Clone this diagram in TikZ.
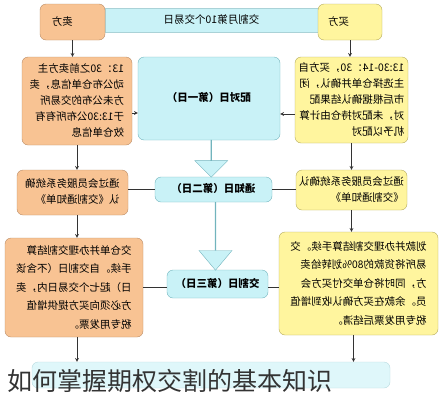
\documentclass[tikz,border=0pt]{standalone}
\usepackage{fontspec}
\setmainfont{Noto Sans CJK SC}
\usetikzlibrary{shapes.arrows, calc}
\definecolor{naranja}{HTML}{F8C393}
\definecolor{bordenaranja}{HTML}{B98C66}
\definecolor{amarillo}{HTML}{FFF59E}
\definecolor{bordeamarillo}{HTML}{B3AA5E}
\definecolor{celeste}{HTML}{C9F2F7}
\definecolor{bordeceleste}{HTML}{72B4BD}
\newcommand{\jingxiang}[1]{\reflectbox{\begin{tabular}{@{}l@{}}#1\end{tabular}}}
\tikzstyle{line} = [line width=0.7pt, black!80]
\tikzstyle{arrow} = [
	line width=0.7pt,
	->,
	>=stealth,
	black!80,
]
\tikzstyle{vendedor} = [
  rectangle,
  rounded corners=6pt,
  inner sep=0pt,
  text centered,
  draw=bordenaranja,
  fill=naranja,
  font=\fontsize{10.5}{16}\selectfont
]
\tikzstyle{comprador} = [
  rectangle,
  rounded corners=6pt,
  inner sep=0pt,
  text centered,
  draw=bordeamarillo,
  fill=amarillo,
  font=\fontsize{10.5}{16}\selectfont
]
\tikzstyle{dia} = [
  rectangle,
  rounded corners=6pt,
  inner sep=0pt,
  text centered,
  draw=bordeceleste,
  fill=celeste,
  font=\fontsize{10.5}{16}\selectfont\bfseries
]
\tikzstyle{flecha} = [
  single arrow,
  rotate=-90,
  inner sep=0pt,
  minimum width=33pt,
  single arrow head extend=9.5pt,
  draw=bordeceleste,
  fill=celeste
]

\begin{document}
\begin{tikzpicture}[x=1pt, y=-1pt]
    \useasboundingbox (0,0) rectangle (440,400);
    \node[dia, rounded corners=0pt, minimum width=213pt, minimum height=24pt, draw=bordeceleste!60, font=\fontsize{10.5}{16}\selectfont] (B) at (211.5,20) {\jingxiang{交割月第10个交易日}};
    \node[vendedor, minimum width=65pt, minimum height=36pt, text width=41pt, inner xsep=12pt, align=left] (A) at (72.5,22) {\jingxiang{卖方}};
    \node[comprador, minimum width=64pt, minimum height=36pt, text width=44pt, inner xsep=10pt, align=left] (C) at (350,22) {\jingxiang{买方}};

    \node[vendedor, minimum width=110pt, minimum height=88pt] (D) at (77,101) {\jingxiang{13：30之前卖方主\\ 动公布仓单信息，卖\\ 方未公布的交易所\\ 于13:30公布所有有\\ 效仓单信息}};
    \node[dia, minimum width=142pt, minimum height=83pt] (E) at (209,98.5) {\jingxiang{配对日（第一日）}};
    \node[comprador, minimum width=113pt, minimum height=86pt] (F) at (351.5,100) {\jingxiang{13:30-14：30，买方自\\ 主选择仓单并确认，闭\\ 市后根据确认结果配\\ 对，未配对持仓由计算\\ 机予以配对}};

    \node[vendedor, minimum width=111pt, minimum height=45pt] (G) at (72.5,192.5) {\jingxiang{通过会员服务系统确\\ 认《交割通知单》}};
    \node[dia, minimum width=117pt, minimum height=25pt] (H) at (213.5,189.5) {\jingxiang{通知日（第二日）}};
    \node[comprador, minimum width=111pt, minimum height=40pt] (I) at (351.5,190) {\jingxiang{通过会员服务系统确认\\ 《交割通知单》}};

    \node[vendedor, minimum width=138pt, minimum height=99pt, font=\fontsize{10.5}{18.5}\selectfont] (J) at (74,287.5) {\jingxiang{交仓单并办理交割结算\\ 手续。自交割日（不含该\\ 日）起七个交易日内，卖\\ 方必须向买方提供增值\\ 税专用发票。}};
    \node[dia, minimum width=101pt, minimum height=28pt] (K) at (217.5,284) {\jingxiang{交割日（第三日）}};
    \node[comprador, minimum width=159pt, minimum height=103pt, font=\fontsize{10.5}{18.5}\selectfont] (L) at (358.5,283.5) {\jingxiang{划款并办理交割结算手续。交\\ 易所将货款的80\%划转给卖\\ 方，同时将仓单交付买方会\\ 员。余款在买方确认收到增值\\ 税专用发票后结清。}};

    \node[dia, minimum width=358pt, minimum height=26pt, draw=bordeceleste!50, fill=celeste!60] (M) at (211,375) {};
    \node[font=\fontsize{25}{30}\selectfont, text=black!80] (N) at (170,381) {如何掌握期权交割的基本知识};

    \node[flecha, minimum height=37pt] (P) at ($(E.south)!0.5!(H.north)$) {};
    \node[flecha, minimum height=68pt, single arrow tip angle=80] (Q) at ($(H.south)!0.5!(K.north)$) {};

    \draw[arrow] (A.south) -- (A.south |- D.north);
    \draw[arrow] (C.south) -- (C.south |- F.north);
    \draw[arrow] ([yshift=-12pt]D.east) -- ([yshift=-12pt]D.east -| E.west);
    \draw[arrow] ([yshift=-14pt]F.west) -- ([yshift=-14pt]F.west -| E.east);
    \draw[arrow] (D.south) -- (D.south |- G.north);
    \draw[arrow] (F.south) -- (F.south |- I.north);
    \draw[arrow] (D.south |- G.south) -- (D.south |- J.north);
    \draw[arrow] (F.south |- I.south) -- (F.south |- L.north);
    \draw[arrow] (D.south |- J.south) -- (D.south |- M.north);
    \draw[arrow] ([xshift=2pt]F.south |- L.south) -- ([xshift=2pt]F.south |- M.north);
    \draw[line] (H.west) -- (H.west -| G.east);
    \draw[line] (H.east) -- (H.east -| I.west);
    \draw[line] ([yshift=-3pt]K.west) -- ([yshift=-3pt]K.west -| J.east);
    \draw[line] ([yshift=-3pt]K.east) -- ([yshift=-3pt]K.east -| L.west);
  \end{tikzpicture}
\end{document}
